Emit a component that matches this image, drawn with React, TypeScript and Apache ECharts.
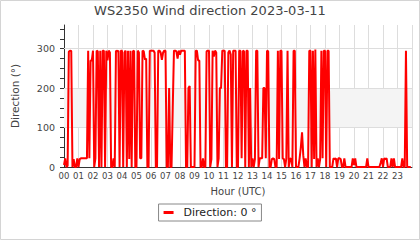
import React, { useEffect, useRef } from "react";
import * as echarts from "echarts";

const hourLabels = [
  "00", "01", "02", "03", "04", "05", "06", "07", "08", "09", "10", "11",
  "12", "13", "14", "15", "16", "17", "18", "19", "20", "21", "22", "23",
];

// wind direction (degrees), one value every 5 minutes, 12 per hour
const direction = [
  5, 22, 0, 3, 292, 295, 294, 0, 20, 0, 0, 22, // 00
  0, 20, 22, 22, 22, 22, 22, 22, 295, 22, 270, 270, // 01
  295, 0, 22, 295, 293, 0, 295, 0, 295, 295, 0, 295, // 02
  270, 295, 290, 0, 0, 22, 0, 295, 293, 295, 0, 295, // 03
  295, 0, 290, 295, 0, 295, 20, 295, 0, 293, 295, 0, // 04
  0, 295, 290, 22, 22, 295, 293, 272, 275, 0, 0, 295, // 05
  295, 295, 295, 290, 0, 0, 295, 295, 290, 272, 290, 295, // 06
  295, 0, 0, 200, 0, 0, 150, 295, 295, 293, 275, 295, // 07
  285, 295, 295, 295, 295, 0, 0, 200, 205, 0, 0, 0, // 08
  0, 295, 295, 270, 270, 0, 0, 22, 0, 0, 293, 295, // 09
  295, 0, 20, 295, 280, 295, 290, 0, 22, 200, 200, 295, // 10
  295, 295, 0, 0, 290, 295, 285, 0, 295, 295, 295, 0, // 11
  0, 295, 295, 22, 295, 293, 0, 295, 295, 0, 200, 0, // 12
  22, 0, 20, 295, 295, 0, 22, 22, 22, 200, 200, 22, // 13
  295, 293, 0, 0, 20, 22, 20, 0, 0, 295, 20, 295, // 14
  295, 22, 20, 0, 22, 295, 0, 22, 20, 0, 295, 295, // 15
  0, 0, 0, 22, 50, 88, 30, 0, 22, 0, 0, 295, // 16
  295, 0, 295, 20, 298, 0, 22, 0, 20, 295, 22, 295, // 17
  295, 0, 295, 295, 0, 0, 0, 22, 20, 22, 0, 22, // 18
  22, 20, 0, 0, 22, 0, 0, 0, 0, 0, 0, 22, // 19
  5, 22, 0, 0, 0, 0, 0, 0, 0, 0, 0, 22, // 20
  0, 0, 0, 0, 0, 0, 0, 0, 0, 0, 10, 22, // 21
  0, 22, 20, 22, 0, 0, 0, 22, 0, 22, 0, 0, // 22
  0, 0, 0, 0, 22, 0, 0, 295, 0, 0, 0, 0, // 23
];

const yTickValues = [0, 25, 50, 75, 100, 125, 150, 175, 200, 225, 250, 275, 300, 325, 350];
const yLabelValues = [0, 100, 200, 300];
const gridLineValues = [100, 200, 300];
const bandRange = [100, 200];
const seriesName = "Direction: 0 °";
const titleText = "WS2350 Wind direction 2023-03-11";

const FONT = "DejaVu Sans";

export default function App() {
  const ref = useRef<HTMLDivElement>(null);
  useEffect(() => {
    if (!ref.current) return;
    const chart = echarts.init(ref.current, undefined, { renderer: "svg" });
    const data = direction.map((v, i) => [i / 12, v]);
    chart.setOption({
      animation: false,
      backgroundColor: "#ffffff",
      textStyle: { fontFamily: FONT },
      title: {
        text: titleText,
        left: "center",
        top: -1,
        textStyle: { fontFamily: FONT, fontSize: 13, fontWeight: "normal", color: "#444" },
      },
      graphic: [
        {
          type: "rect",
          shape: { x: 0.5, y: 0.5, width: 419, height: 239 },
          style: { fill: "none", stroke: "#d4d4d4", lineWidth: 1 },
          silent: true,
          z: -1,
        },
      ],
      legend: {
        data: [{ name: seriesName, icon: "rect" }],
        left: "center",
        top: 204,
        itemWidth: 10,
        itemHeight: 3,
        padding: [3, 5, 3, 5],
        borderColor: "#888",
        borderWidth: 1,
        borderRadius: 0,
        textStyle: { fontFamily: FONT, fontSize: 11, color: "#222", padding: [0, 0, 0, 5] },
      },
      grid: { left: 64, right: 8, top: 25, bottom: 73, containLabel: false },
      xAxis: {
        type: "value",
        min: 0,
        max: 24,
        interval: 1,
        name: "Hour (UTC)",
        nameLocation: "middle",
        nameGap: 19,
        nameTextStyle: { fontFamily: FONT, fontSize: 10, color: "#444" },
        axisLine: { show: true, lineStyle: { color: "#333", width: 1 } },
        axisTick: { show: false },
        axisLabel: {
          fontFamily: FONT,
          fontSize: 8.5,
          color: "#444",
          margin: 4,
          formatter: (v: number) => (v < 24 ? hourLabels[v] : ""),
        },
        splitLine: { show: true, lineStyle: { color: "#dddddd", width: 1 } },
      },
      yAxis: {
        type: "value",
        min: 0,
        max: 360,
        name: "Direction (°)",
        nameLocation: "middle",
        nameGap: 44,
        nameTextStyle: { fontFamily: FONT, fontSize: 10.5, color: "#444" },
        axisLine: { show: true, lineStyle: { color: "#333", width: 1 } },
        axisTick: { show: true, length: 4, lineStyle: { color: "#333" }, customValues: yTickValues },
        axisLabel: {
          fontFamily: FONT,
          fontSize: 9.5,
          color: "#444",
          margin: 9,
          customValues: yLabelValues,
        },
        splitLine: { show: false },
      },
      series: [
        {
          name: seriesName,
          type: "line",
          data,
          showSymbol: false,
          symbol: "none",
          color: "#ff0000",
          lineStyle: { color: "#ff0000", width: 2 },
          z: 3,
          markArea: {
            silent: true,
            z: 1,
            itemStyle: { color: "#f4f4f4" },
            data: [[{ yAxis: bandRange[0] }, { yAxis: bandRange[1] }]],
          },
          markLine: {
            silent: true,
            z: 1,
            symbol: "none",
            label: { show: false },
            lineStyle: { color: "#dddddd", type: "solid", width: 1 },
            data: gridLineValues.map((v) => ({ yAxis: v })),
          },
        },
      ],
    });
    return () => chart.dispose();
  }, []);
  return (
    <div
      ref={ref}
      style={{ position: "absolute", left: 0, top: 0, width: 420, height: 240 }}
    />
  );
}
